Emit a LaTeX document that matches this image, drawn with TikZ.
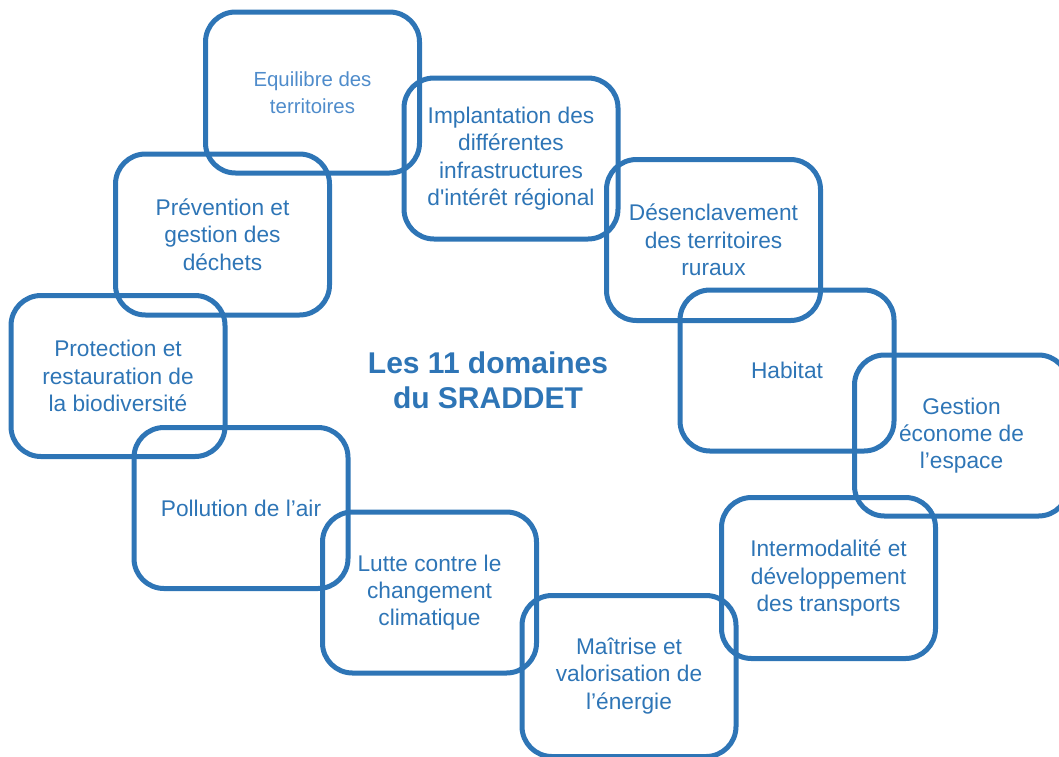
\documentclass[tikz,border=0pt]{standalone}
\usepackage{fontspec}
\setmainfont{Liberation Sans}
\definecolor{sradblue}{HTML}{2E75B6}
\definecolor{sradlight}{HTML}{4F8CCB}

\begin{document}
\begin{tikzpicture}[x=1pt,y=-1pt,
    domaine/.style={draw=sradblue, line width=5pt, rounded corners=30pt,
      minimum width=214pt, minimum height=161pt, align=center,
      text=sradblue, font=\fontsize{22.7}{27.3}\selectfont}]
  \useasboundingbox (0,0) rectangle (1059,756);
  \node[domaine, text=sradlight, font=\fontsize{20.4}{27}\selectfont] (equilibre) at (312.5,92.5) {Equilibre des\\territoires};
  \foreach \x/\y/\nom/\txt in {
      511/158.5/implantation/{Implantation des\\différentes\\infrastructures\\d\textquotesingle intérêt régional},
      222.5/234.5/prevention/{Prévention et\\gestion des\\déchets},
      713.5/240/desenclavement/{Désenclavement\\des territoires\\ruraux},
      118/376/protection/{Protection et\\restauration de\\la biodiversité},
      787/370.5/habitat/{Habitat},
      961.5/435.5/gestion/{Gestion\\économe de\\l’espace},
      241/508/pollution/{Pollution de l’air},
      828.5/578/intermodalite/{Intermodalité et\\développement\\des transports},
      429.5/592.5/lutte/{Lutte contre le\\changement\\climatique},
      629/676/maitrise/{Maîtrise et\\valorisation de\\l’énergie}}{
    \node[domaine] (\nom) at (\x,\y) {\txt};}
  \node[text=sradblue, align=center, font=\bfseries\fontsize{30}{35}\selectfont] (titre) at (488,380.5) {Les 11 domaines\\du SRADDET};
\end{tikzpicture}
\end{document}
